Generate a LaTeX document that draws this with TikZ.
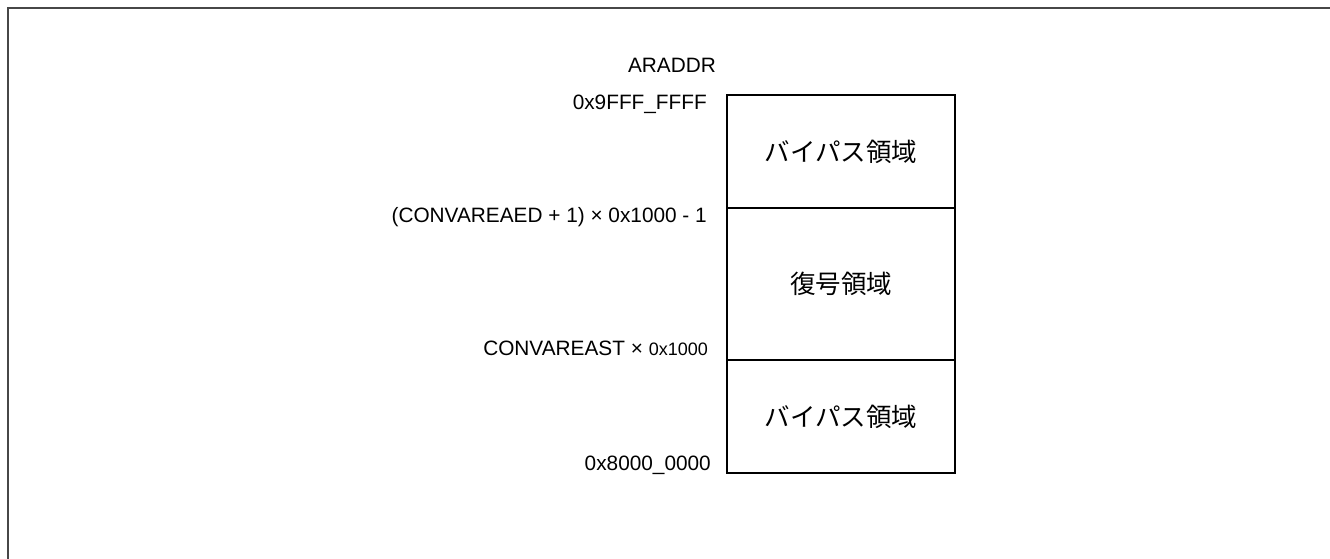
\documentclass[tikz,border=0pt]{standalone}
\usepackage{fontspec}
\setmainfont{Liberation Sans}
\newfontfamily\jpfont{Noto Sans CJK JP}
\usetikzlibrary{positioning}
\definecolor{cframe}{HTML}{474747}
\tikzset{
  region/.style={rectangle, draw=black, line width=1.6pt, minimum width=228pt,
                 inner sep=0pt, outer sep=0pt, font=\jpfont\fontsize{25.5}{30}\selectfont},
  addr/.style={inner sep=0pt, font=\fontsize{20.8}{24}\selectfont},
  frame/.style={draw=cframe, line width=2pt}
}
\begin{document}
\begin{tikzpicture}[x=1pt, y=-1pt]
\useasboundingbox (0,0) rectangle (1330,559);
\draw[frame] (1330,8) -- (8,8) -- (8,559);
% address map
\node[region, minimum height=113pt] (upper) at (841,151.5) {バイパス領域};
\node[region, minimum height=152pt] (conv) at (841,284) {復号領域};
\node[region, minimum height=113pt] (lower) at (841,416.5) {バイパス領域};
% address labels
\node[addr, anchor=base] (title) at (672,73) {ARADDR};
\node[addr, anchor=base east] (top) at (707,110) {0x9FFF\_FFFF};
\node[addr, anchor=base east] (ed) at (707,222) {(CONVAREAED + 1) × 0x1000 - 1};
\node[addr, anchor=base east] (st) at (708,355) {CONVAREAST × {\fontsize{18}{20}\selectfont 0x1000}};
\node[addr, anchor=base east] (bot) at (711,470) {0x8000\_0000};
\end{tikzpicture}
\end{document}
